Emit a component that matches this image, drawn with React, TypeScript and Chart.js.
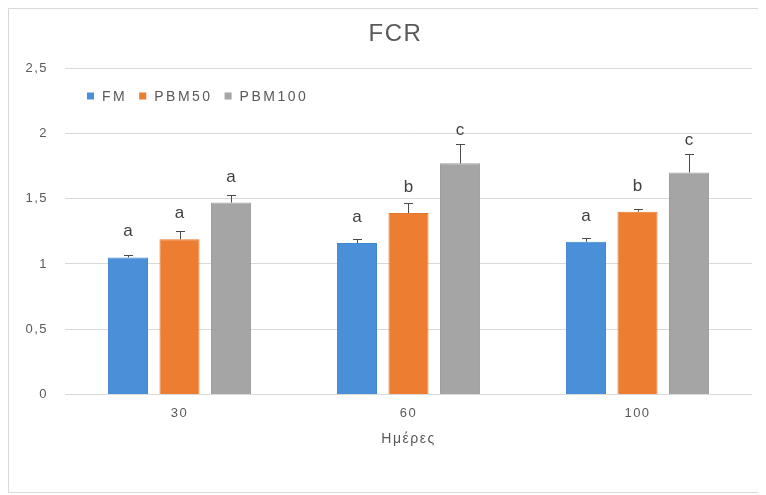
import React, { useEffect, useRef } from 'react';
import { Chart, registerables } from 'chart.js';

Chart.register(...registerables);

const chartTitle = 'FCR';
const xAxisTitle = 'Ημέρες';
const categories = ['30', '60', '100'];
const seriesNames = ['FM', 'PBM50', 'PBM100'];
const fmValues = [1.05, 1.16, 1.17];
const pbm50Values = [1.19, 1.39, 1.4];
const pbm100Values = [1.47, 1.77, 1.7];
const fmErrors = [0.02, 0.03, 0.03];
const pbm50Errors = [0.06, 0.08, 0.02];
const pbm100Errors = [0.06, 0.15, 0.14];
const fmLetters = ['a', 'a', 'a'];
const pbm50Letters = ['a', 'b', 'b'];
const pbm100Letters = ['a', 'c', 'c'];
const yMin = 0;
const yMax = 2.5;
const yStep = 0.5;
const seriesColors = ['#4A90D9', '#ED7D31', '#A5A5A5'];
const seriesBorders = ['#4287D2', '#E5772C', '#9E9E9E'];

const FONT = '"Liberation Sans", Arial, sans-serif';
const TEXT = '#595959';

export default function App() {
  const ref = useRef<HTMLCanvasElement | null>(null);

  useEffect(() => {
    if (!ref.current) return;
    const errors = [fmErrors, pbm50Errors, pbm100Errors];
    const letters = [fmLetters, pbm50Letters, pbm100Letters];
    const values = [fmValues, pbm50Values, pbm100Values];

    const setSpacing = (chart: any) => {
      (chart.ctx as any).letterSpacing = '1.5px';
    };

    const annot = {
      id: 'annot',
      beforeUpdate: setSpacing,
      beforeLayout: setSpacing,
      beforeDraw: setSpacing,
      afterDatasetsDraw(chart: any) {
        const ctx = chart.ctx as CanvasRenderingContext2D;
        const y = chart.scales.y;
        chart.data.datasets.forEach((ds: any, i: number) => {
          const meta = chart.getDatasetMeta(i);
          meta.data.forEach((bar: any, j: number) => {
            const v = ds.data[j] as number;
            const e = errors[i][j];
            const top = y.getPixelForValue(v);
            const et = y.getPixelForValue(v + e);
            const x = Math.round(bar.x) + 0.5;
            ctx.save();
            ctx.strokeStyle = '#4a4a4a';
            ctx.lineWidth = 1;
            ctx.beginPath();
            ctx.moveTo(x, top);
            ctx.lineTo(x, Math.round(et) + 0.5);
            ctx.moveTo(x - 4.5, Math.round(et) + 0.5);
            ctx.lineTo(x + 4.5, Math.round(et) + 0.5);
            ctx.stroke();
            (ctx as any).letterSpacing = '0px';
            ctx.fillStyle = '#404040';
            ctx.font = `17px ${FONT}`;
            ctx.textAlign = 'center';
            ctx.textBaseline = 'alphabetic';
            const by = Math.min(top - 21, et - 9);
            ctx.fillText(letters[i][j], bar.x, by);
            ctx.restore();
          });
        });

        // legend inside plot area
        const area = chart.chartArea;
        ctx.save();
        (ctx as any).letterSpacing = '2.5px';
        ctx.font = `14px ${FONT}`;
        ctx.textBaseline = 'middle';
        ctx.textAlign = 'left';
        let lx = area.left + 22;
        const ly = area.top + 28;
        seriesNames.forEach((name, i) => {
          ctx.fillStyle = seriesColors[i];
          ctx.fillRect(lx, ly - 3.5, 7, 7);
          ctx.fillStyle = TEXT;
          ctx.fillText(name, lx + 15, ly + 1);
          const w = ctx.measureText(name).width;
          lx += 15 + w + 12;
        });
        ctx.restore();

        // chart title
        ctx.save();
        (ctx as any).letterSpacing = '1.5px';
        ctx.font = `24px ${FONT}`;
        ctx.fillStyle = TEXT;
        ctx.textAlign = 'center';
        ctx.textBaseline = 'middle';
        ctx.fillText(chartTitle, chart.width / 2 + 10, 25);
        ctx.restore();
      },
    };

    const chart = new Chart(ref.current, {
      type: 'bar',
      data: {
        labels: categories,
        datasets: seriesNames.map((name, i) => ({
          label: name,
          data: values[i],
          backgroundColor: seriesColors[i],
          borderColor: seriesBorders[i],
          borderWidth: 1,
          categoryPercentage: 0.675,
          barPercentage: 0.777,
        })),
      },
      options: {
        animation: false,
        responsive: true,
        maintainAspectRatio: false,
        layout: { padding: { top: 59, left: 16, right: 10, bottom: 41.8 } },
        plugins: {
          legend: { display: false },
          tooltip: { enabled: false },
          title: { display: false },
        },
        scales: {
          x: {
            grid: { display: false, drawTicks: false },
            border: { display: false },
            ticks: { color: TEXT, font: { family: FONT, size: 13 }, padding: 11 },
            title: {
              display: true,
              text: xAxisTitle,
              color: TEXT,
              font: { family: FONT, size: 14, lineHeight: 1 },
              padding: { top: 0, bottom: 4 },
            },
          },
          y: {
            min: yMin,
            max: yMax,
            afterFit: (s: any) => {
              s.width = 40;
            },
            grid: { color: '#d9d9d9', drawTicks: false, lineWidth: 1 },
            border: { display: false },
            ticks: {
              stepSize: yStep,
              color: TEXT,
              font: { family: FONT, size: 13 },
              padding: 17,
              callback: (v: any) => String(v).replace('.', ','),
            },
          },
        },
      },
      plugins: [annot],
    });
    return () => chart.destroy();
  }, []);

  return (
    <div
      style={{
        width: 753,
        height: 483,
        border: '1px solid #d9d9d9',
        position: 'relative',
        background: '#fff',
      }}
    >
      <canvas ref={ref} />
    </div>
  );
}
